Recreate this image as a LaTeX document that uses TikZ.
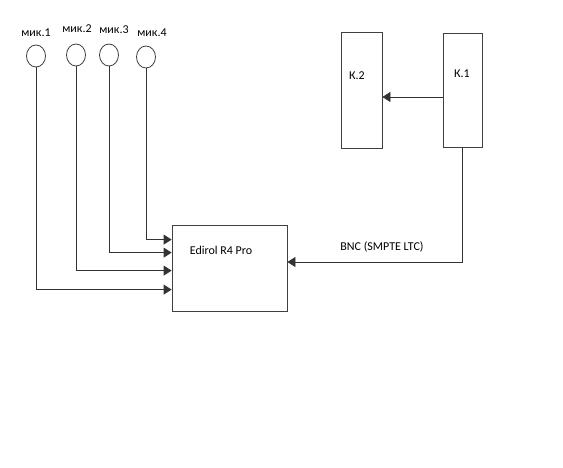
\documentclass[tikz,border=0pt]{standalone}
\usepackage{fontspec}
\setmainfont{Carlito}
\usetikzlibrary{arrows.meta,shapes.geometric}

\tikzset{
    mic/.style={draw=black!75, line width=0.8pt, ellipse, minimum width=19pt, minimum height=22pt, inner sep=0pt},
    unit/.style={draw=black!75, line width=0.8pt, rectangle, inner sep=0pt},
    txt/.style={font=\fontsize{12}{14}\selectfont, inner sep=0pt},
    link/.style={draw=black!80, line width=0.8pt, -{Triangle[length=8pt,width=10pt]}}
}

\begin{document}
\begin{tikzpicture}[x=1pt, y=-1pt]
    \useasboundingbox[fill=white] (0,0) rectangle (563,468);

    % Microphones with their labels
    \foreach \i/\x/\y/\lx/\ly in {1/36/56/36/33, 2/76/55/77/29, 3/109/55/114/30, 4/146/57/152/33} {
        \node[mic] (m\i) at (\x, \y) {};
        \node[txt] (m\i txt) at (\lx, \ly) {мик.\i};
    }

    % Recorder
    \node[unit, minimum width=115pt, minimum height=86pt] (edirol) at (229.5, 268) {};
    \node[txt] (edirol txt) at (221, 250) {Edirol R4 Pro};

    % Cameras
    \node[unit, minimum width=41pt, minimum height=116pt] (k2) at (361.5, 90) {};
    \node[txt] (k2 txt) at (357, 76) {К.2};
    \node[unit, minimum width=39pt, minimum height=114pt] (k1) at (462.5, 90) {};
    \node[txt] (k1 txt) at (462, 74) {К.1};

    % Microphone cables into the recorder
    \foreach \i/\dy in {4/-15, 3/-28, 2/-46, 1/-65} {
        \draw[link] (m\i.south) |- ([yshift=\dy pt]edirol.north west);
    }

    % Camera links
    \draw[link] ([yshift=-7pt]k1.west) -- ([yshift=-7pt]k2.east);
    \draw[link] (k1.south) |- ([yshift=6pt]edirol.east)
        node[txt, pos=0.73, above=9pt] (bnc) {BNC (SMPTE LTC)};
\end{tikzpicture}
\end{document}
